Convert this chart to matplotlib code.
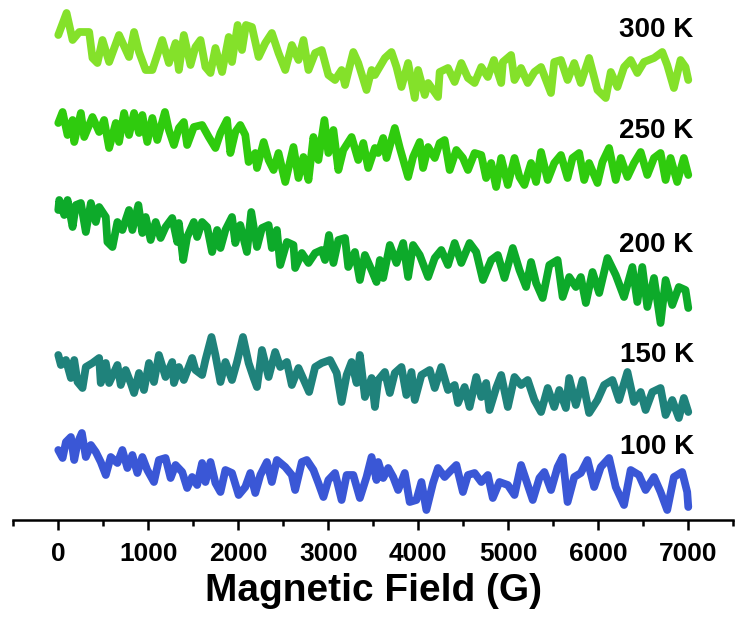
import numpy as np
import matplotlib.pyplot as plt

# EPR traces (field in G, signal in stacked a.u., larger = lower on plot)
field_300 = [0, 92, 159, 233, 343, 380, 435, 491, 565, 675, 786, 842, 897, 971, 1045, 1155, 1229, 1303,
             1340, 1395, 1469, 1524, 1580, 1635, 1691, 1746, 1820, 1894, 1930, 1993, 2041, 2085, 2152,
             2226, 2300, 2373, 2447, 2522, 2595, 2669, 2724, 2780, 2854, 2927, 3001, 3075, 3148, 3186,
             3278, 3333, 3425, 3481, 3518, 3629, 3702, 3758, 3813, 3887, 3961, 3998, 4072, 4110, 4219,
             4238, 4330, 4404, 4478, 4552, 4626, 4700, 4773, 4840, 4921, 4940, 5031, 5069, 5142, 5216,
             5290, 5364, 5474, 5511, 5585, 5659, 5733, 5806, 5898, 5991, 6083, 6139, 6213, 6287, 6360,
             6434, 6508, 6619, 6711, 6766, 6840, 6914, 6969, 7000]
sig_300 = [35, 13, 40, 32, 32, 58, 63, 40, 62, 35, 57, 32, 52, 70, 70, 40, 63, 43,
           70, 35, 65, 47, 40, 67, 73, 48, 72, 37, 62, 25, 50, 25, 27,
           57, 43, 33, 53, 70, 45, 60, 40, 70, 53, 50, 75, 80, 70, 85,
           52, 63, 90, 70, 75, 58, 52, 67, 87, 63, 98, 70, 95, 83, 97,
           72, 68, 82, 63, 78, 83, 67, 77, 60, 83, 62, 55, 80, 68, 83,
           72, 67, 93, 62, 60, 80, 63, 83, 58, 90, 98, 72, 87, 67, 60,
           73, 62, 58, 52, 65, 88, 60, 67, 80]

field_250 = [0, 48, 103, 159, 177, 251, 288, 380, 454, 509, 565, 639, 675, 731, 786, 842, 897, 934,
             989, 1045, 1100, 1185, 1229, 1285, 1340, 1395, 1432, 1506, 1598, 1672, 1746, 1802, 1875,
             1912, 1967, 2022, 2078, 2115, 2189, 2208, 2282, 2337, 2392, 2447, 2522, 2613, 2669, 2724,
             2780, 2835, 2890, 2957, 3001, 3057, 3112, 3167, 3259, 3333, 3389, 3444, 3518, 3555, 3610,
             3647, 3739, 3795, 3887, 3942, 4016, 4053, 4109, 4183, 4238, 4293, 4349, 4423, 4496, 4552,
             4626, 4700, 4754, 4810, 4865, 4921, 4995, 5069, 5124, 5179, 5253, 5309, 5364, 5438, 5511,
             5585, 5659, 5714, 5788, 5843, 5898, 5991, 6046, 6120, 6194, 6250, 6324, 6397, 6471, 6545,
             6619, 6692, 6748, 6803, 6877, 6951, 7000]
sig_250 = [123, 112, 135, 120, 142, 113, 137, 117, 132, 120, 148, 123, 142, 113, 135, 113, 133, 115,
           142, 118, 140, 112, 130, 145, 128, 122, 145, 127, 125, 137, 148, 133, 120,
           153, 132, 125, 135, 162, 153, 168, 142, 160, 170, 153, 182, 147, 178, 157,
           180, 137, 160, 120, 153, 130, 170, 150, 137, 160, 143, 168, 148, 153, 138,
           158, 128, 148, 177, 157, 142, 168, 147, 158, 143, 140, 170, 150, 158, 170,
           153, 155, 178, 163, 187, 158, 185, 158, 177, 185, 163, 182, 152, 180, 163,
           155, 178, 158, 153, 180, 163, 183, 162, 148, 180, 158, 177, 163, 152, 175,
           158, 153, 180, 158, 182, 158, 175]

field_200 = [0, 11, 66, 103, 159, 196, 251, 306, 362, 417, 454, 528, 546, 602, 657, 712, 786, 823,
             890, 934, 971, 1026, 1082, 1137, 1192, 1266, 1322, 1340, 1388, 1432, 1506, 1543, 1598,
             1654, 1709, 1765, 1802, 1857, 1930, 1967, 2022, 2096, 2144, 2208, 2263, 2337, 2373, 2429,
             2466, 2540, 2613, 2632, 2706, 2780, 2854, 2927, 2964, 3008, 3057, 3112, 3186, 3222, 3296,
             3351, 3407, 3481, 3536, 3573, 3610, 3684, 3758, 3832, 3887, 3942, 4016, 4109, 4183, 4256,
             4330, 4404, 4478, 4570, 4644, 4718, 4810, 4884, 4958, 5050, 5124, 5198, 5253, 5309, 5382,
             5456, 5548, 5604, 5677, 5751, 5806, 5862, 5936, 6010, 6102, 6194, 6286, 6379, 6434, 6489,
             6545, 6619, 6692, 6748, 6822, 6895, 6969, 7000]
sig_200 = [210, 200, 215, 200, 227, 205, 203, 232, 203, 222, 207, 217, 242, 247, 222, 230, 210, 230,
           205, 233, 217, 240, 222, 238, 227, 218, 242, 223, 260, 237, 222, 237, 222,
           227, 252, 230, 248, 230, 217, 243, 225, 252, 212, 247, 228, 225, 248, 230,
           265, 242, 245, 268, 253, 263, 253, 250, 260, 235, 263, 240, 238, 267, 252,
           280, 255, 270, 282, 260, 278, 245, 263, 243, 277, 245, 255, 277, 258, 250,
           265, 243, 263, 243, 252, 280, 260, 255, 278, 248, 270, 287, 262, 283, 298,
           265, 260, 297, 277, 287, 277, 303, 272, 293, 258, 275, 297, 267, 302, 267,
           307, 278, 323, 280, 305, 287, 290, 308]

field_150 = [0, 29, 85, 140, 177, 214, 269, 306, 380, 454, 472, 528, 565, 657, 694, 749, 805, 842,
             897, 952, 1008, 1063, 1118, 1192, 1266, 1285, 1340, 1395, 1487, 1524, 1598, 1635, 1702,
             1746, 1802, 1857, 1930, 1986, 2052, 2115, 2171, 2208, 2263, 2337, 2410, 2466, 2540, 2595,
             2669, 2743, 2787, 2854, 2927, 3020, 3094, 3148, 3204, 3259, 3315, 3351, 3407, 3481, 3518,
             3555, 3629, 3684, 3739, 3813, 3868, 3924, 3961, 4035, 4127, 4183, 4256, 4330, 4404, 4441,
             4515, 4570, 4644, 4700, 4754, 4791, 4865, 4921, 4995, 5069, 5142, 5216, 5290, 5364, 5438,
             5511, 5567, 5640, 5677, 5751, 5825, 5898, 5991, 6065, 6157, 6231, 6324, 6397, 6471, 6526,
             6600, 6692, 6748, 6822, 6895, 6951, 7000]
sig_150 = [355, 365, 360, 378, 360, 382, 388, 367, 363, 358, 383, 363, 383, 365, 385, 370, 383, 393,
           373, 390, 363, 382, 355, 377, 362, 383, 367, 380, 358, 370, 375, 360, 337,
           355, 382, 362, 380, 362, 337, 363, 378, 387, 350, 377, 352, 367, 362, 385,
           368, 383, 392, 367, 363, 360, 373, 402, 375, 362, 383, 355, 397, 378, 407,
           380, 372, 393, 373, 367, 395, 372, 400, 375, 370, 388, 367, 390, 385, 403,
           387, 407, 377, 397, 383, 410, 388, 375, 407, 377, 385, 380, 400, 412, 388,
           407, 390, 408, 378, 405, 380, 413, 400, 385, 380, 400, 372, 402, 392, 410,
           392, 388, 415, 400, 418, 398, 412]

field_100 = [0, 48, 85, 140, 177, 214, 262, 306, 362, 417, 472, 528, 583, 657, 712, 768, 823, 879,
             934, 989, 1063, 1118, 1192, 1248, 1303, 1377, 1432, 1487, 1543, 1598, 1635, 1691, 1746,
             1802, 1857, 1930, 2004, 2078, 2134, 2189, 2245, 2318, 2373, 2429, 2522, 2595, 2632, 2706,
             2761, 2835, 2890, 2946, 3001, 3075, 3148, 3204, 3278, 3351, 3425, 3481, 3536, 3555, 3610,
             3666, 3721, 3776, 3850, 3905, 3979, 4035, 4090, 4164, 4219, 4293, 4367, 4423, 4496, 4552,
             4626, 4700, 4773, 4828, 4902, 4995, 5069, 5142, 5216, 5272, 5346, 5401, 5475, 5548, 5604,
             5659, 5733, 5806, 5880, 5954, 6028, 6120, 6194, 6286, 6360, 6452, 6526, 6619, 6692, 6766,
             6840, 6932, 6988, 7000]
sig_100 = [450, 458, 442, 437, 460, 443, 433, 457, 445, 452, 462, 475, 457, 463, 450, 468, 455, 473,
           457, 470, 482, 460, 458, 478, 465, 472, 488, 477, 485, 463, 482, 462, 483,
           492, 470, 473, 495, 487, 473, 493, 475, 462, 482, 460, 467, 475, 490, 462,
           460, 470, 483, 497, 480, 473, 500, 475, 475, 498, 477, 457, 480, 462, 478,
           468, 477, 490, 473, 502, 500, 482, 510, 483, 468, 477, 470, 465, 492, 475,
           473, 482, 475, 498, 482, 485, 495, 465, 485, 500, 478, 472, 490, 467, 457,
           502, 477, 473, 460, 487, 467, 458, 487, 505, 470, 475, 490, 477, 492, 510,
           477, 472, 492, 507]

temps = ['300 K', '250 K', '200 K', '150 K', '100 K']
colors = ['#84E12A', '#2FCB0E', '#0DAA2A', '#1F827B', '#3A57D6']
label_pos = [30, 131, 245, 355, 447]
traces = [(field_300, sig_300), (field_250, sig_250), (field_200, sig_200),
          (field_150, sig_150), (field_100, sig_100)]

plt.rcParams['font.family'] = ['Liberation Sans', 'DejaVu Sans']
plt.rcParams['font.weight'] = 'bold'

fig = plt.figure(figsize=(7.38, 6.17), dpi=100)
ax = fig.add_axes([0.018, 0.1572, 0.9756, 0.8428])

for (f, s), c in zip(traces, colors):
    ax.plot(f, s, color=c, lw=5.6, solid_joinstyle='round', solid_capstyle='round')

for t, yl in zip(temps, label_pos):
    ax.text(7060, yl, t, ha='right', va='center', fontsize=20, fontweight='bold')

ax.set_xlim(-500, 7500)
ax.set_ylim(520, 0)

ax.spines['top'].set_visible(False)
ax.spines['right'].set_visible(False)
ax.spines['left'].set_visible(False)
ax.spines['bottom'].set_linewidth(1.8)
ax.set_yticks([])
ax.set_xticks(np.arange(0, 7001, 1000))
ax.set_xticks(np.arange(-500, 7501, 1000), minor=True)
ax.tick_params(axis='x', which='major', direction='out', length=7, width=1.8,
               labelsize=19, pad=9)
ax.tick_params(axis='x', which='minor', direction='out', length=4, width=1.8)
for lbl in ax.get_xticklabels():
    lbl.set_fontweight('bold')

ax.set_xlabel('Magnetic Field (G)', fontsize=28, fontweight='bold', labelpad=5)

fig.savefig('out.png', dpi=100)
